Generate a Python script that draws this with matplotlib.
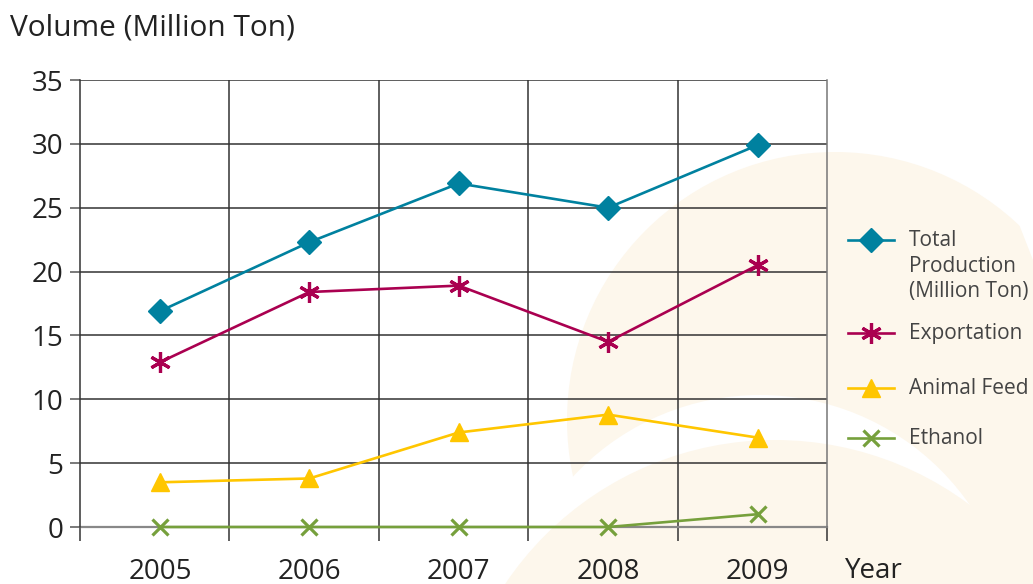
import matplotlib
matplotlib.use("Agg")
import matplotlib.pyplot as plt
from matplotlib.patches import Circle, Polygon
from matplotlib.lines import Line2D
import numpy as np

years = ["2005", "2006", "2007", "2008", "2009"]
total_production = [16.9, 22.3, 26.9, 25.0, 29.9]
exportation = [12.9, 18.4, 18.9, 14.5, 20.5]
animal_feed = [3.5, 3.8, 7.4, 8.8, 7.0]
ethanol = [0.0, 0.0, 0.0, 0.0, 1.0]
y_ticks = [0, 5, 10, 15, 20, 25, 30, 35]

series_names = [["Total", "Production", "(Million Ton)"], ["Exportation"], ["Animal Feed"], ["Ethanol"]]
colors = ["#00819f", "#aa0050", "#ffc600", "#76a03c"]

plt.rcParams['font.family'] = ['Open Sans', 'DejaVu Sans']

W, H = 1033, 584
fig = plt.figure(figsize=(W / 100, H / 100), dpi=100)

# background decoration (pixel coordinates)
bg = fig.add_axes([0, 0, 1, 1], zorder=-5)
bg.set_xlim(0, W)
bg.set_ylim(H, 0)
bg.axis('off')
cream = "#fdf7ec"
bg.add_patch(Circle((835, 420), 268, color=cream, lw=0))
bg.add_patch(Polygon([[990, 150], [1033, 120], [1033, 260]], closed=True, color="white", lw=0))
bg.add_patch(Circle((760, 650), 255, color="white", lw=0))
bg.add_patch(Circle((775, 765), 325, color=cream, lw=0))

L, R, T, B = 80, 827, 80, 527
ax = fig.add_axes([L / W, 1 - B / H, (R - L) / W, (B - T) / H], zorder=1)
ax.set_facecolor('none')

shift = 0.035  # categories drawn slightly right of cell centre, as in the reference
x = np.arange(len(years))
bounds = np.arange(len(years) + 1) - 0.5 - shift

ax.plot(x, total_production, color=colors[0], lw=1.9, marker='D', ms=12.5, zorder=5, clip_on=False)
ax.plot(x, exportation, color=colors[1], lw=1.9, marker=(6, 2, 0), ms=15, mew=2.3, zorder=5, clip_on=False)
ax.plot(x, animal_feed, color=colors[2], lw=1.9, marker='^', ms=13, zorder=5, clip_on=False)
ax.plot(x, ethanol, color=colors[3], lw=1.9, marker='x', ms=11, mew=2.3, zorder=6, clip_on=False)

ax.set_xlim(bounds[0], bounds[-1])
ax.set_ylim(0, 35)
ax.set_yticks(y_ticks)
ax.set_yticklabels([str(v) for v in y_ticks])
ax.set_xticks(bounds)
ax.set_xticklabels([])
ax.set_xticks(x, minor=True)
ax.set_xticklabels(years, minor=True)

ax.tick_params(axis='y', length=7, width=1.1, color='#555555', pad=5, labelsize=20, labelcolor='#222222')
ax.tick_params(axis='x', which='major', length=10, width=1.1, color='#333333')
ax.tick_params(axis='x', which='minor', length=0, pad=22, labelsize=20, labelcolor='#222222')

for v in y_ticks[1:]:
    ax.axhline(v, color='#333333', lw=1.1, zorder=1)
for b in bounds[1:-1]:
    ax.axvline(b, color='#333333', lw=1.1, zorder=1)

ax.spines['top'].set_visible(False)
ax.spines['left'].set_color('#333333')
ax.spines['left'].set_linewidth(1.1)
ax.spines['right'].set_color('#777777')
ax.spines['right'].set_linewidth(1.1)
ax.spines['bottom'].set_color('#888888')
ax.spines['bottom'].set_linewidth(1.6)
ax.spines['bottom'].set_zorder(2)

for lbl in ax.get_xticklabels(minor=True) + ax.get_yticklabels():
    lbl.set_fontweight('medium')

fig.text(10 / W, 1 - 28 / H, "Volume (Million Ton)", fontsize=21.5, color='#222222', va='center', ha='left')
fig.text(845 / W, 1 - 571 / H, "Year", fontsize=20, color='#222222', va='center', ha='left')

# legend drawn manually in pixel coords
leg_y = [240, 333, 388, 438]
markers = [dict(marker='D', ms=12.5), dict(marker=(6, 2, 0), ms=15, mew=2.3),
           dict(marker='^', ms=13), dict(marker='x', ms=11, mew=2.3)]
for yy, lines, c, mk in zip(leg_y, series_names, colors, markers):
    bg.add_line(Line2D([848, 871, 894], [yy, yy, yy], color=c, lw=1.9, markevery=[1], **mk))
    for i, line in enumerate(lines):
        bg.text(909, yy + 26 * i, line, fontsize=15, color='#444444', va='center', ha='left')

fig.savefig("out.png", dpi=100)
